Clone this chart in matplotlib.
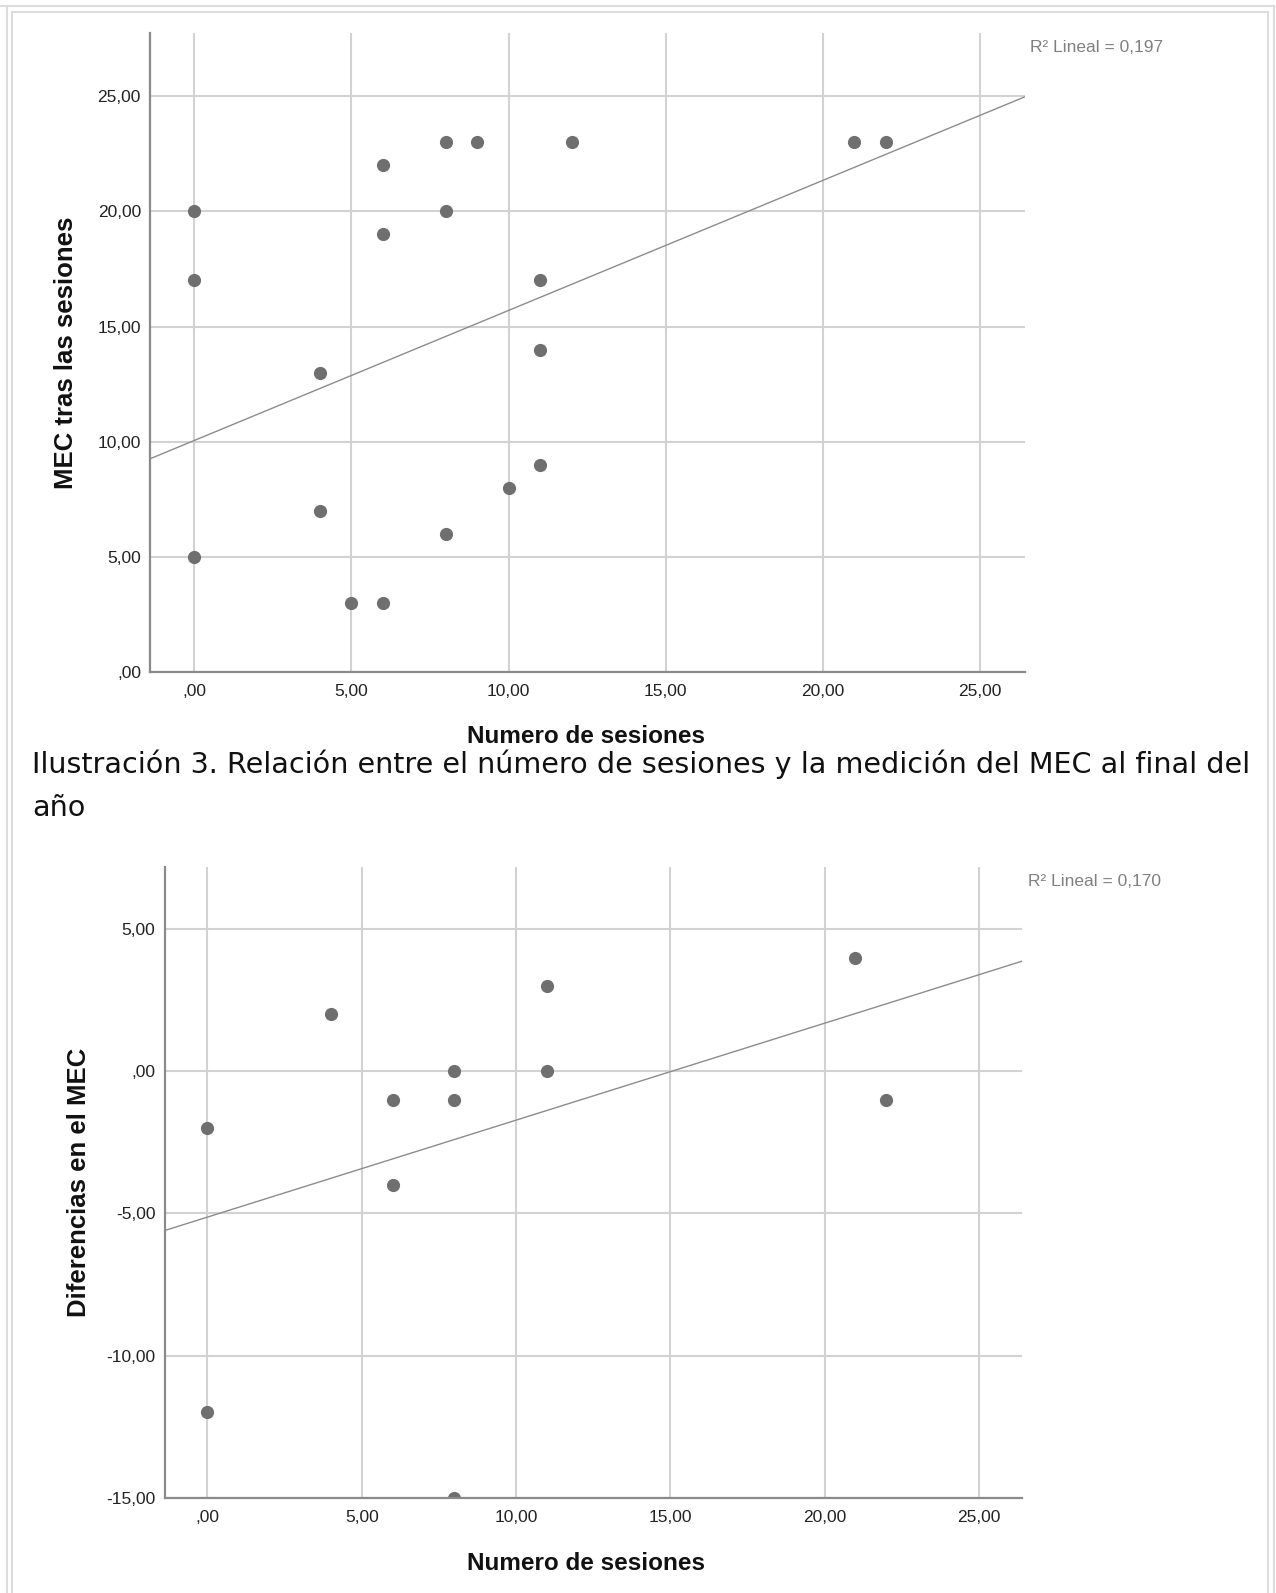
import matplotlib
matplotlib.use("Agg")
import matplotlib.pyplot as plt
from matplotlib.lines import Line2D

# data
sesiones_1 = [0, 0, 0, 4, 4, 5, 6, 6, 6, 8, 8, 8, 9, 10, 11, 11, 11, 12, 21, 22]
mec_final = [20, 17, 5, 13, 7, 3, 22, 19, 3, 23, 20, 6, 23, 8, 17, 14, 9, 23, 23, 23]
fit_1 = (10.05, 0.565)  # intercept, slope
r2_1 = "0,197"

sesiones_2 = [0, 0, 4, 6, 6, 8, 8, 8, 11, 11, 21, 22]
mec_dif = [-2, -12, 2, -1, -4, 0, -1, -15, 3, 0, 4, -1]
fit_2 = (-5.13, 0.341)
r2_2 = "0,170"

x_ticks = [0, 5, 10, 15, 20, 25]
y_ticks_1 = [0, 5, 10, 15, 20, 25]
y_ticks_2 = [-15, -10, -5, 0, 5]

caption_1 = "Ilustración 3. Relación entre el número de sesiones y la medición del MEC al final del"
caption_2 = "año"

W, H = 1276, 1593
GRID = "#d2d2d2"
AXIS = "#8a8a8a"
DOT = "#6f6f6f"
LINE = "#8c8c8c"

plt.rcParams['font.family'] = ['Liberation Sans', 'DejaVu Sans']


def fmt(v):
    s = f"{v:.2f}".replace('.', ',')
    if s.startswith("0,"):
        s = s[1:]
    return s


def fig_rect(left, top, right, bottom):
    return [left / W, 1 - bottom / H, (right - left) / W, (bottom - top) / H]


def scatter_panel(fig, rect, x, y, fit, r2, xlim, ylim, yticks, ylabel, ylab_x, xlab_y, r2_xy):
    ax = fig.add_axes(rect)
    ax.set_xlim(*xlim)
    ax.set_ylim(*ylim)
    ax.set_xticks(x_ticks)
    ax.set_yticks(yticks)
    ax.set_xticklabels([fmt(v) for v in x_ticks])
    ax.set_yticklabels([fmt(v) for v in yticks])
    ax.tick_params(length=0, labelsize=12.5, colors="#222222")
    ax.tick_params(axis='x', pad=8.5)
    ax.tick_params(axis='y', pad=6.5)
    ax.grid(True, color=GRID, linewidth=1.5)
    ax.set_axisbelow(True)
    for s in ["top", "right"]:
        ax.spines[s].set_visible(False)
    for s in ["left", "bottom"]:
        ax.spines[s].set_color(AXIS)
        ax.spines[s].set_linewidth(1.6)
        ax.spines[s].set_zorder(4)

    ax.plot(x, y, 'o', color=DOT, markersize=9.5, markeredgewidth=0, zorder=3)

    b0, b1 = fit
    ax.add_line(Line2D([xlim[0], xlim[1]], [b0 + b1 * xlim[0], b0 + b1 * xlim[1]],
                       color=LINE, linewidth=1.0, zorder=2))

    # axis titles
    top_px = H - (rect[1] + rect[3]) * H
    bot_px = H - rect[1] * H
    fig.text(ylab_x / W, 1 - (top_px + bot_px) / 2 / H, ylabel, rotation=90,
             ha="center", va="center", fontsize=18.5, fontweight="bold", color="#111111")
    fig.text(586 / W, 1 - xlab_y / H, "Numero de sesiones", ha="center", va="center",
             fontsize=17.5, fontweight="bold", color="#111111")
    fig.text(r2_xy[0] / W, 1 - r2_xy[1] / H, "R² Lineal = " + r2, ha="left", va="center",
             fontsize=12.5, color="#808080")
    return ax


fig = plt.figure(figsize=(W / 100, H / 100), dpi=100)
fig.patch.set_facecolor("white")

scatter_panel(fig, fig_rect(150, 33, 1024.5, 671.8), sesiones_1, mec_final, fit_1, r2_1,
              (-1.41, 26.41), (0, 27.75), y_ticks_1, "MEC tras las sesiones",
              66, 737, (1030, 48))

scatter_panel(fig, fig_rect(164.5, 866.6, 1021.7, 1497.7), sesiones_2, mec_dif, fit_2, r2_2,
              (-1.39, 26.39), (-15, 7.2), y_ticks_2, "Diferencias en el MEC",
              79, 1563, (1028, 882))

# caption between the two charts, sized so the first line spans the page width
cap_font = ["DejaVu Sans"]
c1 = fig.text(32 / W, 1 - 764 / H, caption_1, ha="left", va="center",
              fontsize=20, family=cap_font, color="#111111")
c2 = fig.text(32 / W, 1 - 808 / H, caption_2, ha="left", va="center",
              fontsize=20, family=cap_font, color="#111111")
renderer = fig.canvas.get_renderer()
width = c1.get_window_extent(renderer).width
size = 20 * 1218 / width
c1.set_fontsize(size)
c2.set_fontsize(size)

# page frame (double line, open at the bottom)
frame = "#dcdcdc"
fig.add_artist(Line2D([0, 1274 / W], [1 - 5.5 / H] * 2, color=frame, lw=1.5, transform=fig.transFigure))
fig.add_artist(Line2D([11.7 / W, 1268 / W], [1 - 11.7 / H] * 2, color=frame, lw=1.5, transform=fig.transFigure))
for xp, ytop in [(6.7, 8), (11.7, 11.7), (1268, 11.7), (1274, 5.5)]:
    fig.add_artist(Line2D([xp / W] * 2, [0, 1 - ytop / H], color=frame, lw=1.5, transform=fig.transFigure))

fig.savefig("out.png", dpi=100)
